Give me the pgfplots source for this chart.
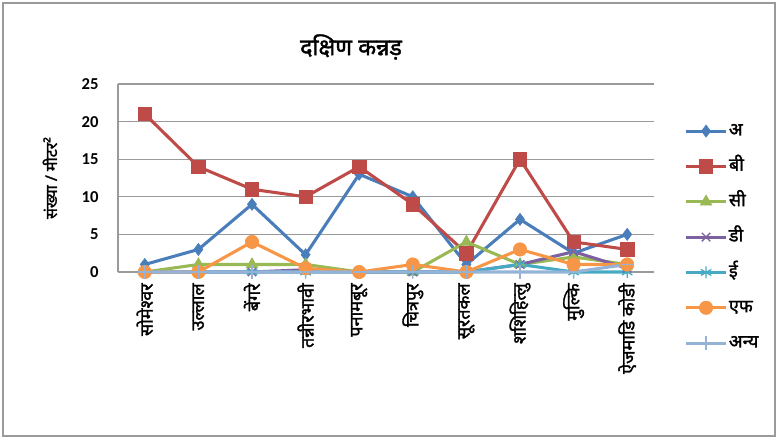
\documentclass[border=0pt]{standalone}
\usepackage{fontspec}
\usepackage{pgfplots}
\pgfplotsset{compat=1.18}
\setmainfont{Carlito}
\newfontfamily\deva[Script=Devanagari,FakeBold=1.6]{Noto Sans}
\definecolor{cA}{HTML}{4A7EBB}
\definecolor{cB}{HTML}{BE4B48}
\definecolor{cC}{HTML}{98B954}
\definecolor{cD}{HTML}{7D60A0}
\definecolor{cE}{HTML}{46AAC5}
\definecolor{cF}{HTML}{F79646}
\definecolor{cG}{HTML}{95B3D7}
\definecolor{gridc}{HTML}{9A9A9A}
\begin{document}
\begin{tikzpicture}
\useasboundingbox (0,0) rectangle (583.5pt,329.25pt);
\draw[gridc, line width=1pt] (2.25pt,2.25pt) rectangle (581.25pt,327pt);
\node[font=\deva\fontsize{17.5}{20}\selectfont] at (263.25pt,294pt) {दक्षिण कन्नड़};
\begin{axis}[
  at={(88.5pt,125.25pt)}, anchor=south west,
  scale only axis, width=402pt, height=141pt,
  xmin=-0.5, xmax=9.5, ymin=0, ymax=25,
  ytick={0,5,10,15,20,25},
  xtick={0,...,9},
  xticklabels={सोमेश्वर,उल्लाल,बेंगरे,तन्नीरभावी,पनामबूर,चित्रपुर,सूरतकल,शशिहित्लु,मुल्कि,ऐजमाडि कोडी},
  xticklabel style={rotate=90, anchor=east, font=\deva\fontsize{13.5}{15}\selectfont},
  xticklabel shift=5pt,
  yticklabel style={font=\bfseries\fontsize{12.5}{14}\selectfont},
  yticklabel shift=11pt,
  /pgf/number format/assume math mode=true,
  major tick length=0pt,
  axis x line*=bottom, axis y line*=left,
  axis line style={gridc, line width=1pt},
  ymajorgrids, grid style={gridc, line width=1pt},
  ylabel={संख्या / मीटर²},
  ylabel style={font=\deva\fontsize{12}{14}\selectfont, at={(axis description cs:-0.127,0.5)}, anchor=center},
  clip=false,
  legend style={draw=none, fill=none, at={(axis description cs:1.049,0.82)}, anchor=north west,
    font=\deva\fontsize{13.5}{15}\selectfont, row sep=11pt,
    nodes={inner sep=1pt, text height=10pt, text depth=3.5pt}},
  legend cell align=left,
  legend image code/.code={\draw[mark repeat=2,mark phase=2] plot coordinates {(0pt,0pt) (15pt,0pt) (30pt,0pt)};},
  every axis plot/.append style={line width=2.3pt},
]
\addplot[cA, mark=diamond*, mark size=4.5pt, mark options={solid, line width=0.5pt}] coordinates {(0,1) (1,3) (2,9) (3,2.3) (4,13) (5,10) (6,1) (7,7) (8,2.5) (9,5)};
\addlegendentry{अ}
\addplot[cB, mark=square*, mark size=5pt, mark options={solid, line width=0.5pt}] coordinates {(0,21) (1,14) (2,11) (3,10) (4,14) (5,9) (6,2.5) (7,15) (8,4) (9,3)};
\addlegendentry{बी}
\addplot[cC, mark=triangle*, mark size=5pt, mark options={solid, line width=0.5pt}] coordinates {(0,0) (1,1) (2,1) (3,1) (4,0) (5,0) (6,4) (7,1) (8,2) (9,1)};
\addlegendentry{सी}
\addplot[cD, mark=x, mark size=4.5pt, mark options={solid, line width=1pt}] coordinates {(0,0) (1,0) (2,0) (3,0.3) (4,0) (5,0) (6,0) (7,1) (8,2.7) (9,0.5)};
\addlegendentry{डी}
\addplot[cE, mark=asterisk, mark size=4.5pt, mark options={solid, line width=1pt}] coordinates {(0,0) (1,0) (2,0) (3,0) (4,0) (5,0) (6,0) (7,1) (8,0) (9,0)};
\addlegendentry{ई}
\addplot[cF, mark=*, mark size=5pt, mark options={solid, line width=0.5pt}] coordinates {(0,0) (1,0) (2,4) (3,0.5) (4,0) (5,1) (6,0) (7,3) (8,1) (9,1)};
\addlegendentry{एफ}
\addplot[cG, mark=+, mark size=5pt, mark options={solid, line width=1pt}] coordinates {(0,0) (1,0) (2,0) (3,0) (4,0) (5,0) (6,0) (7,0) (8,0) (9,1)};
\addlegendentry{अन्य}
\end{axis}
\end{tikzpicture}
\end{document}
